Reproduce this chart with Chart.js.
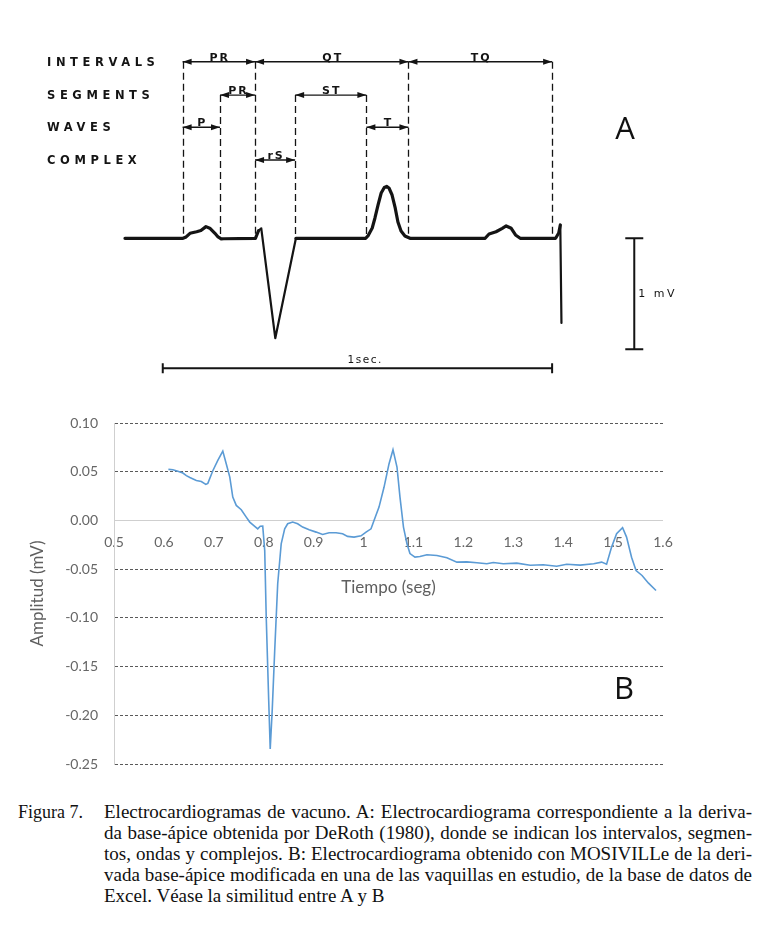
<!DOCTYPE html>
<html lang="es">
<head>
<meta charset="utf-8">
<title>Figura 7 - Electrocardiogramas de vacuno</title>
<script src="https://cdn.jsdelivr.net/npm/chart.js@4.4.0/dist/chart.umd.min.js"></script>
<style>
  html, body { margin: 0; padding: 0; background: #fff; }
  body { position: relative; width: 776px; height: 935px; overflow: hidden; }
  .panel { position: absolute; left: 0; width: 776px; height: 395px; }
  #panelA { top: 0; }
  #panelB { top: 395px; }
  .tag { position: absolute; width: 40px; text-align: center; font-family: "Open Sans", sans-serif;
         font-size: 31px; line-height: 31px; color: #111; }
  #caption { position: absolute; left: 0; top: 802px; width: 776px; color: #111;
             font-family: "Liberation Serif", serif; font-size: 19px; line-height: 20.9px; }
  #caption .fig { position: absolute; left: 18px; top: 0; font-size: 18px; }
  #caption .body { position: absolute; left: 104px; top: 0; width: 648px; }
  #caption .ln { white-space: nowrap; text-align: justify; text-align-last: justify; }
  #caption .ln.last { text-align-last: left; }
</style>
</head>
<body>
<div id="panelA" class="panel"><canvas id="ecgA"></canvas></div>
<div id="panelB" class="panel"><canvas id="ecgB"></canvas></div>
<div class="tag" style="left:605px; top:112px;">A</div>
<div class="tag" style="left:604px; top:672px;">B</div>
<div id="caption">
  <div class="fig">Figura 7.</div>
  <div class="body">
    <div class="ln">Electrocardiogramas de vacuno. A: Electrocardiograma correspondiente a la deriva-</div>
    <div class="ln">da base-ápice obtenida por DeRoth (1980), donde se indican los intervalos, segmen-</div>
    <div class="ln">tos, ondas y complejos. B: Electrocardiograma obtenido con MOSIVILLe de la deri-</div>
    <div class="ln">vada base-ápice modificada en una de las vaquillas en estudio, de la base de datos de</div>
    <div class="ln last">Excel. Véase la similitud entre A y B</div>
  </div>
</div>
<script>
// --- A: DeRoth (1980) schematic, time in s, amplitude in mV
const aTime = [-0.097, 0.052, 0.060, 0.070, 0.087, 0.098, 0.111, 0.122, 0.134, 0.142, 0.150, 0.157,
  0.238, 0.246, 0.253, 0.289, 0.342, 0.521, 0.527, 0.538, 0.545, 0.553, 0.561, 0.569, 0.575, 0.581,
  0.589, 0.597, 0.604, 0.612, 0.622, 0.635, 0.828, 0.838, 0.856, 0.872, 0.882, 0.895, 0.906, 0.918,
  1.009, 1.017, 1.021, 1.024];
const aVolt = [0, 0, 0.012, 0.045, 0.059, 0.070, 0.105, 0.088, 0.045, 0.012, -0.005, -0.004,
  0, 0.068, 0.090, -0.900, 0, 0, 0.021, 0.093, 0.183, 0.300, 0.408, 0.458, 0.467, 0.453,
  0.390, 0.273, 0.147, 0.066, 0.021, 0, 0, 0.039, 0.059, 0.090, 0.111, 0.090, 0.030, 0,
  0, 0.048, 0.120, -0.763];

// rows of the measurement arrows (level in mV)
const rowNames = ['INTERVALS', 'SEGMENTS', 'WAVES', 'COMPLEX'];
const rowLevels = [1.59, 1.29, 1.0, 0.705];
// arrows: label, row, start and end time (s)
const spanNames = ['PR', 'QT', 'TQ', 'PR', 'ST', 'P', 'T', 'rS'];
const spanRow = [0, 0, 0, 1, 1, 2, 2, 3];
const spanStart = [0.051, 0.237, 0.631, 0.147, 0.340, 0.051, 0.523, 0.237];
const spanEnd = [0.237, 0.631, 1.0, 0.237, 0.523, 0.147, 0.631, 0.340];

// calibration bars
const secBar = [0, 1];        // s
const secBarLevel = -1.171;   // mV
const mvBar = [0, -1];        // mV
const mvBarTime = 1.211;      // s

// --- B: MOSIVILLe recording
const bTime = [0.609, 0.618, 0.628, 0.638, 0.645, 0.652, 0.665, 0.675, 0.684, 0.688,
  0.698, 0.708, 0.718, 0.725, 0.732, 0.738, 0.745, 0.755, 0.765, 0.772,
  0.782, 0.788, 0.793, 0.798, 0.802, 0.805, 0.810, 0.813, 0.817, 0.822,
  0.828, 0.835, 0.842, 0.848, 0.858, 0.868, 0.878, 0.891, 0.905, 0.918,
  0.931, 0.945, 0.958, 0.968, 0.981, 0.995, 1.005, 1.015, 1.021, 1.031,
  1.041, 1.051, 1.059, 1.067, 1.073, 1.080, 1.087, 1.093, 1.103, 1.113,
  1.127, 1.147, 1.167, 1.187, 1.207, 1.227, 1.247, 1.260, 1.280, 1.307,
  1.334, 1.360, 1.387, 1.407, 1.434, 1.461, 1.477, 1.487, 1.497, 1.507,
  1.519, 1.527, 1.537, 1.546, 1.558, 1.571, 1.586];
const bAmp = [0.0524, 0.0520, 0.0505, 0.0486, 0.0460, 0.0440, 0.0410, 0.0400, 0.0370, 0.0380,
  0.0510, 0.0616, 0.0712, 0.0580, 0.0445, 0.0240, 0.0154, 0.0110, 0.0034, -0.0017,
  -0.0060, -0.0086, -0.0060, -0.0058, -0.0310, -0.0990, -0.1850, -0.2346, -0.1950, -0.1336,
  -0.0650, -0.0240, -0.0086, -0.0034, -0.0017, -0.0034, -0.0068, -0.0096, -0.0120, -0.0144,
  -0.0127, -0.0127, -0.0137, -0.0164, -0.0171, -0.0158, -0.0120, -0.0086, 0.0000, 0.0137,
  0.0340, 0.0580, 0.0726, 0.0548, 0.0240, -0.0068, -0.0240, -0.0340, -0.0377, -0.0370,
  -0.0353, -0.0360, -0.0384, -0.0428, -0.0425, -0.0435, -0.0445, -0.0432, -0.0445, -0.0438,
  -0.0460, -0.0455, -0.0470, -0.0450, -0.0459, -0.0445, -0.0428, -0.0450, -0.0274, -0.0137,
  -0.0075, -0.0171, -0.0377, -0.0514, -0.0565, -0.0644, -0.0719];
const bTimeTicks = [0.5, 1.6, 0.1];     // min, max, step
const bAmpTicks = [-0.25, 0.10, 0.05];

const ink = '#141414';

// draws the dashed limits, arrows, labels and calibration bars of panel A
const ecgDiagram = {
  id: 'ecgDiagram',
  beforeDatasetsDraw(chart) {
    const { ctx, scales: { x, y } } = chart;
    const bounds = [...new Set(spanStart.concat(spanEnd))];
    ctx.save();
    ctx.strokeStyle = ink;
    ctx.lineWidth = 1.3;
    ctx.setLineDash([7, 4]);
    bounds.forEach(b => {
      let top = 0;
      spanStart.forEach((s, i) => {
        if (s === b || spanEnd[i] === b) top = Math.max(top, rowLevels[spanRow[i]]);
      });
      const px = Math.round(x.getPixelForValue(b)) + 0.5;
      ctx.beginPath();
      ctx.moveTo(px, y.getPixelForValue(top));
      ctx.lineTo(px, y.getPixelForValue(0));
      ctx.stroke();
    });
    ctx.restore();
  },
  afterDatasetsDraw(chart) {
    const { ctx, chartArea, scales: { x, y } } = chart;
    ctx.save();
    ctx.fillStyle = ink;
    ctx.strokeStyle = ink;

    // row titles
    ctx.font = 'bold 11.5px "DejaVu Sans"';
    ctx.letterSpacing = '4.6px';
    ctx.textAlign = 'left';
    ctx.textBaseline = 'middle';
    rowNames.forEach((name, i) => {
      ctx.fillText(name, chartArea.left + 47, y.getPixelForValue(rowLevels[i]) + 1);
    });

    // double arrows
    ctx.font = 'bold 11px "DejaVu Sans"';
    ctx.letterSpacing = '2px';
    ctx.textAlign = 'center';
    ctx.textBaseline = 'alphabetic';
    spanNames.forEach((name, i) => {
      const x0 = x.getPixelForValue(spanStart[i]);
      const x1 = x.getPixelForValue(spanEnd[i]);
      const py = y.getPixelForValue(rowLevels[spanRow[i]]);
      ctx.lineWidth = 1.4;
      ctx.beginPath();
      ctx.moveTo(x0, py);
      ctx.lineTo(x1, py);
      ctx.stroke();
      [[x0, 1], [x1, -1]].forEach(([tip, dir]) => {
        ctx.beginPath();
        ctx.moveTo(tip, py);
        ctx.lineTo(tip + dir * 9, py - 3);
        ctx.lineTo(tip + dir * 9, py + 3);
        ctx.closePath();
        ctx.fill();
      });
      ctx.fillText(name, (x0 + x1) / 2 + 1, py - 1);
    });

    // 1 sec bar
    ctx.lineWidth = 2;
    const sy = y.getPixelForValue(secBarLevel);
    const sx0 = x.getPixelForValue(secBar[0]);
    const sx1 = x.getPixelForValue(secBar[1]);
    ctx.beginPath();
    ctx.moveTo(sx0, sy); ctx.lineTo(sx1, sy);
    ctx.moveTo(sx0, sy - 5); ctx.lineTo(sx0, sy + 5);
    ctx.moveTo(sx1, sy - 5); ctx.lineTo(sx1, sy + 5);
    ctx.stroke();
    ctx.font = '10.5px "DejaVu Sans"';
    ctx.letterSpacing = '1.5px';
    ctx.fillText('1sec.', x.getPixelForValue(0.52), sy - 5);

    // 1 mV bar
    const mx = x.getPixelForValue(mvBarTime);
    const my0 = y.getPixelForValue(mvBar[0]);
    const my1 = y.getPixelForValue(mvBar[1]);
    ctx.beginPath();
    ctx.moveTo(mx, my0); ctx.lineTo(mx, my1);
    ctx.moveTo(mx - 9, my0); ctx.lineTo(mx + 9, my0);
    ctx.moveTo(mx - 9, my1); ctx.lineTo(mx + 9, my1);
    ctx.stroke();
    ctx.textAlign = 'left';
    ctx.textBaseline = 'middle';
    ctx.font = '11px "DejaVu Sans"';
    ctx.letterSpacing = '2.5px';
    ctx.fillText('1 mV', mx + 4, (my0 + my1) / 2);
    ctx.restore();
  }
};

const chartA = new Chart(document.getElementById('ecgA'), {
  type: 'line',
  data: {
    datasets: [{
      data: aTime.map((t, i) => ({ x: t, y: aVolt[i] })),
      borderColor: ink,
      borderWidth: 3.2,
      borderJoinStyle: 'round',
      borderCapStyle: 'round',
      pointRadius: 0,
      tension: 0,
      segment: {
        // the fast QRS strokes are drawn thinner in the original
        borderWidth: ctx => {
          const t0 = ctx.p0.parsed.x;
          return (t0 >= 0.245 && t0 < 0.342) || t0 >= 1.02 ? 2.2 : 3.2;
        }
      }
    }]
  },
  options: {
    responsive: true,
    maintainAspectRatio: false,
    animation: false,
    layout: { padding: 0 },
    plugins: { legend: { display: false }, tooltip: { enabled: false } },
    scales: {
      x: { type: 'linear', display: false, min: -0.418, max: 1.575 },
      y: { display: false, min: -1.412, max: 2.147 }
    }
  },
  plugins: [ecgDiagram]
});

const isZero = v => Math.abs(v) < 1e-9;
const axisGrey = '#666666';

const chartB = new Chart(document.getElementById('ecgB'), {
  type: 'line',
  data: {
    datasets: [{
      data: bTime.map((t, i) => ({ x: t, y: bAmp[i] })),
      borderColor: '#5b9bd5',
      borderWidth: 1.6,
      pointRadius: 0,
      tension: 0
    }]
  },
  options: {
    responsive: true,
    maintainAspectRatio: false,
    animation: false,
    layout: { padding: { left: 0, right: 113, top: 28, bottom: 26 } },
    plugins: { legend: { display: false }, tooltip: { enabled: false } },
    scales: {
      x: {
        type: 'linear',
        min: bTimeTicks[0],
        max: bTimeTicks[1],
        position: { y: 0 },
        ticks: {
          stepSize: bTimeTicks[2],
          autoSkip: false,
          maxRotation: 0,
          padding: 14,
          color: axisGrey,
          font: { family: 'Lato', size: 14 },
          callback: v => String(Math.round(v * 10) / 10)
        },
        grid: { display: false, drawTicks: false },
        border: { display: false },
        title: {
          display: true,
          text: 'Tiempo (seg)',
          color: '#5f5f5f',
          font: { family: 'Lato', size: 17 },
          padding: { top: 12, bottom: 0 }
        }
      },
      y: {
        min: bAmpTicks[0],
        max: bAmpTicks[1],
        ticks: {
          stepSize: bAmpTicks[2],
          padding: 16,
          color: axisGrey,
          font: { family: 'Lato', size: 14 },
          callback: v => isZero(v) ? '0.00' : v.toFixed(2)
        },
        grid: {
          drawTicks: false,
          lineWidth: 1,
          color: ctx => ctx.tick && isZero(ctx.tick.value) ? '#cfcfcf' : '#595959'
        },
        border: {
          display: true,
          color: '#cfcfcf',
          dash: ctx => ctx.tick && isZero(ctx.tick.value) ? [] : [3, 2]
        },
        title: {
          display: true,
          text: 'Amplitud (mV)',
          color: '#5f5f5f',
          font: { family: 'Lato', size: 17 },
          padding: { top: 27, bottom: 0 }
        },
        afterFit: scale => { scale.width = 114; }
      }
    }
  }
});

// keep each justified caption line inside its column
document.querySelectorAll('#caption .ln').forEach(el => {
  const over = el.scrollWidth - el.clientWidth;
  if (over > 0) el.style.letterSpacing = (-over / el.textContent.length) + 'px';
});
</script>
</body>
</html>
